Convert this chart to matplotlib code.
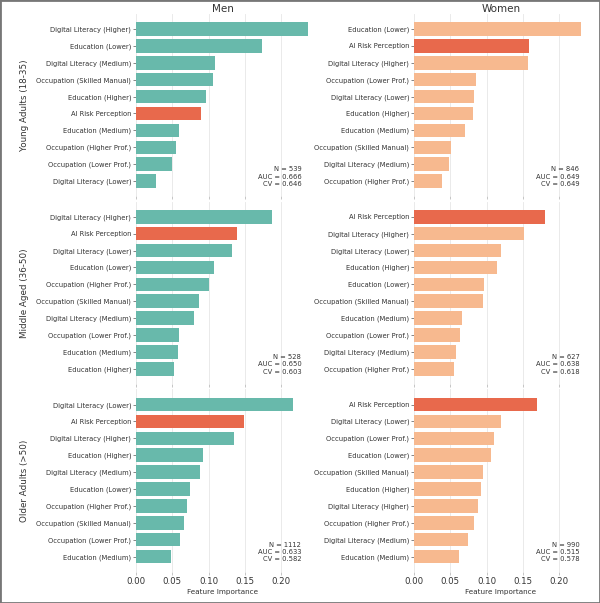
import matplotlib.pyplot as plt
from matplotlib.patches import Rectangle

# Feature importance per age group and gender
young_men_labels = ['Digital Literacy (Higher)', 'Education (Lower)', 'Digital Literacy (Medium)',
                    'Occupation (Skilled Manual)', 'Education (Higher)', 'AI Risk Perception',
                    'Education (Medium)', 'Occupation (Higher Prof.)', 'Occupation (Lower Prof.)',
                    'Digital Literacy (Lower)']
young_men_values = [0.237, 0.174, 0.109, 0.106, 0.096, 0.090, 0.0595, 0.055, 0.049, 0.0275]

young_women_labels = ['Education (Lower)', 'AI Risk Perception', 'Digital Literacy (Higher)',
                      'Occupation (Lower Prof.)', 'Digital Literacy (Lower)', 'Education (Higher)',
                      'Education (Medium)', 'Occupation (Skilled Manual)', 'Digital Literacy (Medium)',
                      'Occupation (Higher Prof.)']
young_women_values = [0.230, 0.158, 0.157, 0.085, 0.083, 0.082, 0.0705, 0.051, 0.0476, 0.038]

middle_men_labels = ['Digital Literacy (Higher)', 'AI Risk Perception', 'Digital Literacy (Lower)',
                     'Education (Lower)', 'Occupation (Higher Prof.)', 'Occupation (Skilled Manual)',
                     'Digital Literacy (Medium)', 'Occupation (Lower Prof.)', 'Education (Medium)',
                     'Education (Higher)']
middle_men_values = [0.188, 0.139, 0.133, 0.108, 0.101, 0.0865, 0.080, 0.0588, 0.0586, 0.0526]

middle_women_labels = ['AI Risk Perception', 'Digital Literacy (Higher)', 'Digital Literacy (Lower)',
                       'Education (Higher)', 'Education (Lower)', 'Occupation (Skilled Manual)',
                       'Education (Medium)', 'Occupation (Lower Prof.)', 'Digital Literacy (Medium)',
                       'Occupation (Higher Prof.)']
middle_women_values = [0.181, 0.1515, 0.120, 0.115, 0.0966, 0.0948, 0.0655, 0.0636, 0.0577, 0.0545]

older_men_labels = ['Digital Literacy (Lower)', 'AI Risk Perception', 'Digital Literacy (Higher)',
                    'Education (Higher)', 'Digital Literacy (Medium)', 'Education (Lower)',
                    'Occupation (Higher Prof.)', 'Occupation (Skilled Manual)', 'Occupation (Lower Prof.)',
                    'Education (Medium)']
older_men_values = [0.216, 0.149, 0.1346, 0.093, 0.0884, 0.075, 0.071, 0.066, 0.0604, 0.0485]

older_women_labels = ['AI Risk Perception', 'Digital Literacy (Lower)', 'Occupation (Lower Prof.)',
                      'Education (Lower)', 'Occupation (Skilled Manual)', 'Education (Higher)',
                      'Digital Literacy (Higher)', 'Occupation (Higher Prof.)', 'Digital Literacy (Medium)',
                      'Education (Medium)']
older_women_values = [0.169, 0.120, 0.110, 0.106, 0.0957, 0.092, 0.0884, 0.083, 0.075, 0.0623]

age_groups = ['Young Adults (18-35)', 'Middle Aged (36-50)', 'Older Adults (>50)']
genders = ['Men', 'Women']
n_values = [[539, 846], [528, 627], [1112, 990]]
auc_values = [[0.666, 0.649], [0.650, 0.638], [0.633, 0.515]]
cv_values = [[0.646, 0.649], [0.603, 0.618], [0.582, 0.578]]

panels = [[(young_men_labels, young_men_values), (young_women_labels, young_women_values)],
          [(middle_men_labels, middle_men_values), (middle_women_labels, middle_women_values)],
          [(older_men_labels, older_men_values), (older_women_labels, older_women_values)]]

base_colors = ['#68b9ab', '#f7b98f']
highlight = '#e8694c'
text_color = '#333333'

fig, axes = plt.subplots(3, 2, figsize=(6, 6.03), dpi=100, sharex=True)
fig.subplots_adjust(left=0.2267, right=0.98, top=0.9768, bottom=0.0521, wspace=0.598, hspace=0.031)

for r in range(3):
    for c in range(2):
        ax = axes[r, c]
        labels, values = panels[r][c]
        colors = [highlight if lab == 'AI Risk Perception' else base_colors[c] for lab in labels]
        ax.barh(range(len(values)), values, height=0.8, color=colors, zorder=2)
        ax.set_yticks(range(len(labels)))
        ax.set_yticklabels(labels, fontsize=4.9, color=text_color)
        ax.invert_yaxis()
        ax.set_xlim(0, 0.24)
        ax.set_xticks([0, 0.05, 0.10, 0.15, 0.20])
        ax.xaxis.grid(True, color='#e6e6e6', linewidth=0.6, zorder=0)
        ax.set_axisbelow(True)
        for s in ax.spines.values():
            s.set_visible(False)
        ax.tick_params(axis='y', length=2, width=0.5, colors='#555555', pad=1.5)
        ax.tick_params(axis='y', labelcolor=text_color)
        ax.tick_params(axis='x', length=2, width=0.4, colors='#999999', labelsize=6.2,
                       labelcolor=text_color, pad=2)
        ax.text(0.95, 0.05, 'N = %d\nAUC = %.3f\nCV = %.3f' % (n_values[r][c], auc_values[r][c], cv_values[r][c]),
                transform=ax.transAxes, ha='right', va='bottom', multialignment='right',
                fontsize=4.9, color=text_color, linespacing=1.25)
        if r == 0:
            ax.set_title(genders[c], fontsize=7.5, color=text_color, pad=0.5)
        if c == 0:
            ax.set_ylabel(age_groups[r], fontsize=6.3, color=text_color, labelpad=5)
        if r == 2:
            ax.set_xlabel('Feature Importance', fontsize=5.2, color=text_color, labelpad=2)

# thin frame around the whole image
fig.add_artist(Rectangle((0, 0), 1, 1, transform=fig.transFigure, fill=False,
                         edgecolor='#777777', linewidth=2))

fig.savefig('out.png', dpi=100)
